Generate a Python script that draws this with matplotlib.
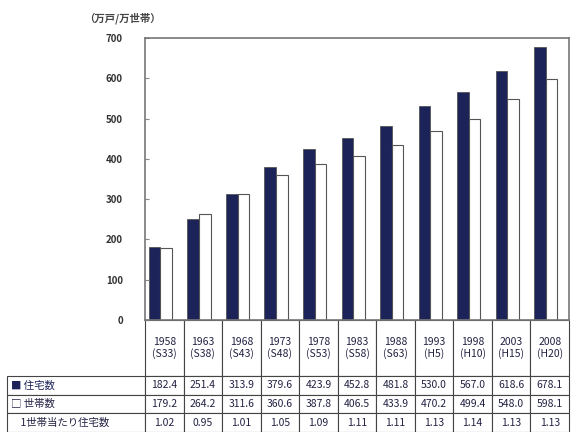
import numpy as np
import matplotlib.pyplot as plt

plt.rcParams['font.family'] = ['Noto Sans CJK JP', 'DejaVu Sans']

years = ['1958\n(S33)', '1963\n(S38)', '1968\n(S43)', '1973\n(S48)', '1978\n(S53)',
         '1983\n(S58)', '1988\n(S63)', '1993\n(H5)', '1998\n(H10)', '2003\n(H15)', '2008\n(H20)']
houses = [182.4, 251.4, 313.9, 379.6, 423.9, 452.8, 481.8, 530.0, 567.0, 618.6, 678.1]
households = [179.2, 264.2, 311.6, 360.6, 387.8, 406.5, 433.9, 470.2, 499.4, 548.0, 598.1]
ratio = ['1.02', '0.95', '1.01', '1.05', '1.09', '1.11', '1.11', '1.13', '1.14', '1.13', '1.13']
row_labels = ['', '■ 住宅数', '□ 世帯数', '    1世帯当たり住宅数']

navy = '#1b2358'
fig = plt.figure(figsize=(5.71, 4.32), dpi=100)
ax_l, ax_t, ax_w, ax_h = 145, 38, 424, 282
ax = fig.add_axes([ax_l / 571, 1 - (ax_t + ax_h) / 432, ax_w / 571, ax_h / 432])

# bar pairs sit slightly left of the column centres in the original
x = np.arange(len(years)) - 0.1
w = 0.3
ax.bar(x - w / 2, houses, w, color=navy, edgecolor='#555555', linewidth=0.6)
ax.bar(x + w / 2, households, w, color='white', edgecolor='#555555', linewidth=0.8)

ax.set_xlim(-0.5, len(years) - 0.5)
ax.set_ylim(0, 700)
ax.set_yticks(range(0, 701, 100))
ax.set_xticks([])
ax.tick_params(axis='y', direction='in', length=3, pad=16, labelsize=7, colors='#888888',
               labelcolor='#333333')
for lab in ax.get_yticklabels():
    lab.set_fontweight('bold')
for s in ax.spines.values():
    s.set_color('#777777')
    s.set_linewidth(1.2)

fig.text(122 / 571, 1 - 18 / 432, '（万戸/万世帯）', fontsize=7.5, fontweight='bold',
         color='#444444', ha='center', va='center')

cells = [years,
         ['%.1f' % v for v in houses],
         ['%.1f' % v for v in households],
         ratio]
heights = [56, 19, 18, 19]
col_w = 1 / len(years)
lab_w = (ax_l - 7) / ax_w
tbl = ax.table(cellText=cells, rowLabels=row_labels, cellLoc='center', rowLoc='left',
               bbox=[0, -sum(heights) / ax_h, 1, sum(heights) / ax_h])
tbl._autoColumns = []
tbl.auto_set_font_size(False)
tbl.set_fontsize(7.5)
for (r, c), cell in tbl.get_celld().items():
    # sizes already in axes units so the bbox scale is 1
    cell.set_height(heights[r] / ax_h)
    cell.set_width(lab_w if c == -1 else col_w)
    cell.set_edgecolor('#444444')
    cell.set_linewidth(0.8)
    cell.PAD = 0.03
    cell.get_text().set_color('#222244')
tbl[(0, -1)].visible_edges = ''
tbl[(1, -1)].get_text().set_color(navy)

fig.savefig('out.png', dpi=100)
